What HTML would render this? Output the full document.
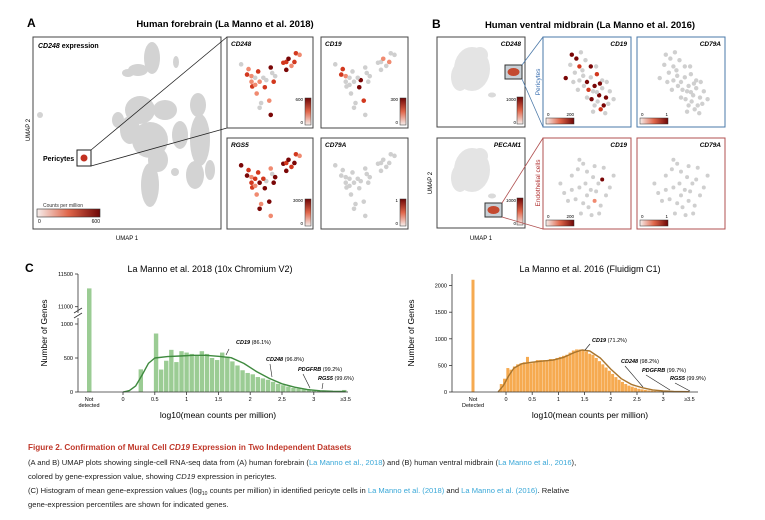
<!DOCTYPE html>
<html><head><meta charset="utf-8"><style>
html,body{margin:0;padding:0;background:#fff}
svg{display:block;font-family:"Liberation Sans",sans-serif}
</style></head><body>
<svg id="fig" width="765" height="520" viewBox="0 0 765 520" xmlns="http://www.w3.org/2000/svg">
<defs>
<linearGradient id="rh" x1="0" x2="1" y1="0" y2="0"><stop offset="0" stop-color="#f6eeec"/><stop offset="0.5" stop-color="#e0664a"/><stop offset="1" stop-color="#6e0606"/></linearGradient>
<linearGradient id="rv" x1="0" x2="0" y1="1" y2="0"><stop offset="0" stop-color="#f6eeec"/><stop offset="0.5" stop-color="#e0664a"/><stop offset="1" stop-color="#6e0606"/></linearGradient>
</defs>
<g id="static"></g>
</svg>
<script>
// ---------- Histogram data ----------
const leftBinStart = 0.28, leftBinWidth = 0.08;
const leftCounts = [333,0,0,860,330,460,620,440,600,580,560,540,600,560,500,470,580,520,450,390,320,280,260,220,200,180,150,120,100,80,60,50,40,30,20,15,10,10,10,10,30];
const leftNotDetected = 11280;
const leftCurveX = [0,0.1,0.2,0.3,0.4,0.5,0.7,0.9,1.1,1.3,1.5,1.7,1.9,2.1,2.3,2.5,2.7,2.9,3.1,3.3,3.5];
const leftCurveY = [0,20,90,250,420,500,520,530,540,540,525,505,420,300,200,120,70,35,18,10,8];
const leftXTicks = [0,0.5,1,1.5,2,2.5,3];
const leftXTickLabels = ["0","0.5","1","1.5","2","2.5","3"];
const leftYTicksLow = [0,500,1000];
const leftYTicksHigh = [11000,11500];

const rightBinStart = -0.09, rightBinWidth = 0.0625;
const rightCounts = [150,250,450,420,480,520,540,560,660,540,560,600,600,600,600,620,620,640,660,680,700,740,780,800,800,780,760,720,700,640,580,520,460,400,340,280,230,190,150,120,100,80,60,50,40,30,25,20,15,10,8,8,8,8,8,8,8,8];
const rightNotDetected = 2110;
const rightCurveX = [-0.15,-0.05,0.05,0.15,0.3,0.5,0.7,0.9,1.1,1.3,1.45,1.6,1.8,2.0,2.2,2.4,2.6,2.8,3.0,3.2,3.5];
const rightCurveY = [0,120,300,450,530,560,580,600,650,740,790,770,640,430,250,140,80,40,20,10,5];
const rightXTicks = [0,0.5,1,1.5,2,2.5,3];
const rightYTicks = [0,500,1000,1500,2000];

// ---------- UMAP mini-panel cells (embedding coords 0-100) ----------
const cellsA = [[11,27],[21,33],[19,40],[25,42],[30,44],[34,36],[36,49],[26,55],[32,64],[43,56],[45,47],[51,31],[53,38],[57,42],[55,49],[68,25],[72,24],[75,20],[79,29],[83,24],[85,13],[72,34],[90,15],[49,73],[51,91],[38,76],[36,82],[25,49],[41,44],[30,53]];
const cellsA_CD248 = [0,1,2,1,0,2,1,2,1,2,0,3,0,0,2,2,2,3,1,2,2,3,1,1,3,0,0,1,0,1];
const cellsA_CD19 = [0,2,2,1,0,0,0,0,0,3,3,0,0,0,0,0,0,1,0,1,0,0,0,2,0,0,0,0,0,0];
const cellsA_RGS5 = [3,2,3,1,2,2,3,2,1,3,0,1,0,3,3,3,2,3,2,3,2,3,1,3,1,1,3,2,2,1];
const cellsB = [[30,15],[36,20],[28,28],[40,30],[34,38],[22,45],[45,42],[50,50],[55,44],[60,55],[63,40],[58,62],[66,67],[70,58],[75,70],[64,75],[72,80],[78,78],[68,85],[60,80],[52,60],[46,55],[40,48],[32,50],[55,30],[48,22],[42,12],[62,30],[70,48],[80,62],[85,72],[50,70],[38,60],[58,88],[74,90],[44,35],[67,52],[76,50],[56,72],[63,63]];
const cellsB_CD19 = [3,3,0,2,0,3,0,3,0,3,2,0,3,0,3,0,3,0,2,0,2,0,0,0,3,0,0,0,0,0,0,0,0,0,0,0,3,0,3,0];
const cellsE = [[40,20],[45,25],[38,32],[50,35],[30,40],[58,42],[65,50],[70,45],[62,60],[55,58],[48,50],[40,55],[30,58],[20,62],[25,72],[35,70],[45,75],[52,80],[60,72],[68,78],[75,65],[80,55],[72,30],[60,28],[85,40],[50,65],[42,88],[56,90],[66,88],[15,50]];
const cellsE_CD19 = [0,0,0,0,0,0,0,3,0,0,0,0,0,0,0,0,0,0,1,0,0,0,0,0,0,0,0,0,0,0];
const heat = ["#cfcfcf","#f08a70","#d2381e","#7a0606"];

const NS="http://www.w3.org/2000/svg";
const svg=document.getElementById('fig');
function mk(tag,attrs,parent,text){const e=document.createElementNS(NS,tag);for(const k in attrs)e.setAttribute(k,attrs[k]);if(text!==undefined)e.textContent=text;(parent||svg).appendChild(e);return e;}

let t;
t=mk('text',{x:27,y:27,'font-size':12,'font-weight':'bold'},svg,'A');


t=mk('text',{x:225,y:27,'font-size':9.5,'font-weight':'bold','text-anchor':'middle'},svg,'Human forebrain (La Manno et al. 2018)');


t=mk('text',{x:432,y:28,'font-size':12,'font-weight':'bold'},svg,'B');


t=mk('text',{x:590,y:28,'font-size':9.5,'font-weight':'bold','text-anchor':'middle'},svg,'Human ventral midbrain (La Manno et al. 2016)');


t=mk('text',{x:25,y:272,'font-size':12,'font-weight':'bold'},svg,'C');



// Panel A big UMAP
const gA=mk('g',{});


mk('rect',{x:33,y:37,width:188,height:192,fill:'#fff',stroke:'#444','stroke-width':1},gA);
const blobsA=[[152,58,8,16],[138,70,10,6],[128,73,6,4],[176,62,3,6],[40,115,3,3],[140,110,15,14],[165,110,12,10],[130,130,10,14],[150,140,18,18],[158,160,10,12],[150,185,9,22],[198,105,8,12],[200,140,10,26],[195,175,9,14],[180,135,8,14],[118,120,6,8],[210,170,5,10],[175,172,4,4]];
blobsA.forEach(b=>mk('ellipse',{cx:b[0],cy:b[1],rx:b[2],ry:b[3],fill:'#d3d3d3'},gA));
mk('rect',{x:77,y:150,width:14,height:16,fill:'none',stroke:'#222','stroke-width':1},gA);
mk('circle',{cx:84,cy:158,r:3.5,fill:'#c23020'},gA);
mk('text',{x:38,y:48,'font-size':7,'font-weight':'bold'},gA).innerHTML='<tspan font-style="italic">CD248</tspan> expression';
mk('text',{x:43,y:161,'font-size':7,'font-weight':'bold'},gA,'Pericytes');
mk('text',{x:43,y:207,'font-size':5,fill:'#333'},gA,'Counts per million');
mk('rect',{x:37,y:209,width:63,height:8,fill:'url(#rh)',stroke:'#333','stroke-width':0.6},gA);
mk('text',{x:38,y:223,'font-size':5},gA,'0');
mk('text',{x:100,y:223,'font-size':5,'text-anchor':'end'},gA,'600');
mk('line',{x1:91,y1:150,x2:227,y2:37,stroke:'#222','stroke-width':0.8});
mk('line',{x1:91,y1:166,x2:227,y2:128,stroke:'#222','stroke-width':0.8});
t=mk('text',{x:0,y:0,'font-size':6,transform:'translate(30,130) rotate(-90)','text-anchor':'middle'},svg,'UMAP 2');


t=mk('text',{x:127,y:240,'font-size':6,'text-anchor':'middle'},svg,'UMAP 1');



function mini(name,x,y,w,h,label,cells,vals,stroke,lblRight,cbar,r){
  const g=mk('g',{});
  
  
  mk('rect',{x:x,y:y,width:w,height:h,fill:'#fff',stroke:stroke,'stroke-width':1},g);
  cells.forEach((c,i)=>mk('circle',{cx:x+6+c[0]/100*(w-12),cy:y+6+c[1]/100*(h-12),r:r,fill:heat[vals[i]]},g));
  mk('text',{x:lblRight?x+w-4:x+4,y:y+9,'font-size':6.5,'font-weight':'bold','font-style':'italic','text-anchor':lblRight?'end':'start'},g,label);
  if(cbar){ if(cbar.v){mk('rect',{x:x+w-8,y:y+h-30,width:6,height:27,fill:'url(#rv)',stroke:'#333','stroke-width':0.5},g);
      mk('text',{x:x+w-10,y:y+h-27,'font-size':4.5,'text-anchor':'end'},g,cbar.max);mk('text',{x:x+w-10,y:y+h-4,'font-size':4.5,'text-anchor':'end'},g,'0');}
    else {mk('rect',{x:x+3,y:y+h-9,width:28,height:6,fill:'url(#rh)',stroke:'#333','stroke-width':0.5},g);
      mk('text',{x:x+4,y:y+h-11,'font-size':4.5},g,'0');mk('text',{x:x+31,y:y+h-11,'font-size':4.5,'text-anchor':'end'},g,cbar.max);}}
  return g;
}
const noneA=cellsA.map(()=>0);
mini('mini-a-cd248',227,37,86,91,'CD248',cellsA,cellsA_CD248,'#444',false,{v:1,max:'600'},2.3);
mini('mini-a-cd19',321,37,87,91,'CD19',cellsA,cellsA_CD19,'#444',false,{v:1,max:'300'},2.3);
mini('mini-a-rgs5',227,138,86,91,'RGS5',cellsA,cellsA_RGS5,'#444',false,{v:1,max:'3000'},2.3);
mini('mini-a-cd79a',321,138,87,91,'CD79A',cellsA,noneA,'#444',false,{v:1,max:'1'},2.3);

// Panel B big UMAPs
function bigB(name,y,label,bx,by,bc){
  const g=mk('g',{});
  
  
  mk('rect',{x:437,y:y,width:88,height:90,fill:'#fff',stroke:'#444','stroke-width':1},g);
  [[472,y+32,18,22],[460,y+40,9,14],[480,y+18,8,8]].forEach(b=>mk('ellipse',{cx:b[0],cy:b[1],rx:b[2],ry:b[3],fill:'#e4e4e4'},g));
  mk('ellipse',{cx:492,cy:y+58,rx:4,ry:2.5,fill:'#dadada'},g);
  mk('text',{x:521,y:y+9,'font-size':6.5,'font-weight':'bold','font-style':'italic','text-anchor':'end'},g,label);
  mk('rect',{x:bx,y:by,width:17,height:14,fill:'#c8d0d6',stroke:'#333','stroke-width':1},g);
  mk('ellipse',{cx:bx+8.5,cy:by+7,rx:6,ry:4,fill:bc},g);
  mk('rect',{x:517,y:y+60,width:6,height:27,fill:'url(#rv)',stroke:'#333','stroke-width':0.5},g);
  mk('text',{x:516,y:y+64,'font-size':4.5,'text-anchor':'end'},g,'1000');
  mk('text',{x:516,y:y+87,'font-size':4.5,'text-anchor':'end'},g,'0');
}
bigB('umap-midbrain-cd248',37,'CD248',505,65,'#c44a30');
bigB('umap-midbrain-pecam1',138,'PECAM1',485,203,'#c44a30');
mk('line',{x1:522,y1:65,x2:543,y2:37,stroke:'#4a78a8','stroke-width':0.8});
mk('line',{x1:522,y1:79,x2:543,y2:127,stroke:'#4a78a8','stroke-width':0.8});
mk('line',{x1:502,y1:203,x2:543,y2:138,stroke:'#b05050','stroke-width':0.8});
mk('line',{x1:502,y1:217,x2:543,y2:229,stroke:'#b05050','stroke-width':0.8});
mini('mini-b-pericytes-cd19',543,37,88,90,'CD19',cellsB,cellsB_CD19,'#4a78a8',true,{max:'200'},2.2);
mini('mini-b-pericytes-cd79a',637,37,88,90,'CD79A',cellsB,cellsB.map(()=>0),'#4a78a8',true,{max:'1'},2.2);
mini('mini-b-endo-cd19',543,138,88,91,'CD19',cellsE,cellsE_CD19,'#b05050',true,{max:'200'},2.0);
mini('mini-b-endo-cd79a',637,138,88,91,'CD79A',cellsE,cellsE.map(()=>0),'#b05050',true,{max:'1'},2.0);
t=mk('text',{x:0,y:0,'font-size':6.5,fill:'#3a6fb0',transform:'translate(540,82) rotate(-90)','text-anchor':'middle'},svg,'Pericytes');


t=mk('text',{x:0,y:0,'font-size':6.5,fill:'#b03030',transform:'translate(540,183) rotate(-90)','text-anchor':'middle'},svg,'Endothelial cells');


t=mk('text',{x:0,y:0,'font-size':6,transform:'translate(432,183) rotate(-90)','text-anchor':'middle'},svg,'UMAP 2');


t=mk('text',{x:481,y:240,'font-size':6,'text-anchor':'middle'},svg,'UMAP 1');



// ---------- Left histogram ----------
(function(){
  const g=mk('g',{});
  
  
  const x0=123, pxu=63.6, y0=392;
  const xs=v=>x0+v*pxu;
  const yLow=v=>y0-v*0.068;
  const yHigh=v=>306.7-(v-11000)*0.0654;
  mk('text',{x:210,y:272,'font-size':9,'text-anchor':'middle'},g,'La Manno et al. 2018 (10x Chromium V2)');
  leftCounts.forEach((c,i)=>{ if(!c) return;
    const b=mk('rect',{x:xs(leftBinStart+i*leftBinWidth)-2.2,y:yLow(c),width:4.4,height:y0-yLow(c),fill:'#9bcc94'},g);
    
    
  });
  const nd=mk('rect',{x:87,y:yHigh(leftNotDetected),width:4.5,height:y0-yHigh(leftNotDetected),fill:'#9bcc94'},g);
  
  
  let d=leftCurveX.map((v,i)=>(i?'L':'M')+xs(v).toFixed(1)+','+yLow(leftCurveY[i]).toFixed(1)).join(' ');
  const c=mk('path',{d:d,fill:'none',stroke:'#3f8a3f','stroke-width':1.4,'stroke-linejoin':'round'},g);
  
  
  mk('line',{x1:78,y1:y0,x2:348,y2:y0,stroke:'#333','stroke-width':0.8},g);
  mk('line',{x1:78,y1:y0,x2:78,y2:318,stroke:'#333','stroke-width':0.8},g);
  mk('line',{x1:78,y1:313,x2:78,y2:274,stroke:'#333','stroke-width':0.8},g);
  mk('line',{x1:74,y1:318,x2:82,y2:313,stroke:'#333','stroke-width':0.8},g);
  mk('line',{x1:74,y1:313,x2:82,y2:308,stroke:'#333','stroke-width':0.8},g);
  leftYTicksLow.forEach(v=>{mk('line',{x1:75,x2:78,y1:yLow(v),y2:yLow(v),stroke:'#333','stroke-width':0.8},g);mk('text',{x:73,y:yLow(v)+2,'font-size':5.5,'text-anchor':'end'},g,v);});
  leftYTicksHigh.forEach(v=>{mk('line',{x1:75,x2:78,y1:yHigh(v),y2:yHigh(v),stroke:'#333','stroke-width':0.8},g);mk('text',{x:73,y:yHigh(v)+2,'font-size':5.5,'text-anchor':'end'},g,v);});
  leftXTicks.forEach((v,i)=>{mk('line',{x1:xs(v),x2:xs(v),y1:y0,y2:y0+3,stroke:'#333','stroke-width':0.8},g);mk('text',{x:xs(v),y:y0+9,'font-size':5.5,'text-anchor':'middle'},g,leftXTickLabels[i]);});
  mk('text',{x:xs(3.5),y:y0+9,'font-size':5.5,'text-anchor':'middle'},g,'≥3.5');
  mk('text',{x:89,y:y0+9,'font-size':5.5,'text-anchor':'middle'},g,'Not');
  mk('text',{x:89,y:y0+15,'font-size':5.5,'text-anchor':'middle'},g,'detected');
  mk('text',{x:218,y:418,'font-size':8.5,'text-anchor':'middle'},g,'log10(mean counts per million)');
  mk('text',{x:0,y:0,'font-size':8.5,'text-anchor':'middle',transform:'translate(47,333) rotate(-90)'},g,'Number of Genes');
  const ann=[[236,344,'CD19','(86.1%)',229,349,226,355],[266,361,'CD248','(96.8%)',270,364,272,377],[298,371,'PDGFRB','(99.2%)',303,374,310,388],[318,380,'RGS5','(99.6%)',323,383,322,389]];
  ann.forEach(a=>{mk('text',{x:a[0],y:a[1],'font-size':5.5},g).innerHTML='<tspan font-weight="bold" font-style="italic">'+a[2]+'</tspan> '+a[3];
    mk('line',{x1:a[4],y1:a[5],x2:a[6],y2:a[7],stroke:'#222','stroke-width':0.6},g);});
})();

// ---------- Right histogram ----------
(function(){
  const g=mk('g',{});
  
  
  const x0=506, pxu=52.4, y0=392;
  const xs=v=>x0+v*pxu;
  const ys=v=>y0-v*0.0532;
  mk('text',{x:590,y:272,'font-size':9,'text-anchor':'middle'},g,'La Manno et al. 2016 (Fluidigm C1)');
  rightCounts.forEach((c,i)=>{
    const b=mk('rect',{x:xs(rightBinStart+i*rightBinWidth)-1.5,y:ys(c),width:3.0,height:y0-ys(c),fill:'#f6aa50'},g);
    
    
  });
  const nd=mk('rect',{x:471.5,y:ys(rightNotDetected),width:3,height:y0-ys(rightNotDetected),fill:'#f6aa50'},g);
  
  
  let d=rightCurveX.map((v,i)=>(i?'L':'M')+xs(v).toFixed(1)+','+ys(rightCurveY[i]).toFixed(1)).join(' ');
  const c=mk('path',{d:d,fill:'none',stroke:'#a8752e','stroke-width':1.4,'stroke-linejoin':'round'},g);
  
  
  mk('line',{x1:452,y1:y0,x2:698,y2:y0,stroke:'#333','stroke-width':0.8},g);
  mk('line',{x1:452,y1:y0,x2:452,y2:274,stroke:'#333','stroke-width':0.8},g);
  rightYTicks.forEach(v=>{mk('line',{x1:449,x2:452,y1:ys(v),y2:ys(v),stroke:'#333','stroke-width':0.8},g);mk('text',{x:447,y:ys(v)+2,'font-size':5.5,'text-anchor':'end'},g,v);});
  rightXTicks.forEach(v=>{mk('line',{x1:xs(v),x2:xs(v),y1:y0,y2:y0+3,stroke:'#333','stroke-width':0.8},g);mk('text',{x:xs(v),y:y0+9,'font-size':5.5,'text-anchor':'middle'},g,String(v));});
  mk('text',{x:xs(3.5),y:y0+9,'font-size':5.5,'text-anchor':'middle'},g,'≥3.5');
  mk('text',{x:473,y:y0+9,'font-size':5.5,'text-anchor':'middle'},g,'Not');
  mk('text',{x:473,y:y0+15,'font-size':5.5,'text-anchor':'middle'},g,'Detected');
  mk('text',{x:590,y:418,'font-size':8.5,'text-anchor':'middle'},g,'log10(mean counts per million)');
  mk('text',{x:0,y:0,'font-size':8.5,'text-anchor':'middle',transform:'translate(414,333) rotate(-90)'},g,'Number of Genes');
  const ann=[[592,342,'CD19','(71.2%)',590,344,585,350],[621,363,'CD248','(98.2%)',625,366,643,387],[642,372,'PDGFRB','(99.7%)',646,375,670,390],[670,380,'RGS5','(99.9%)',675,383,690,391]];
  ann.forEach(a=>{mk('text',{x:a[0],y:a[1],'font-size':5.5},g).innerHTML='<tspan font-weight="bold" font-style="italic">'+a[2]+'</tspan> '+a[3];
    mk('line',{x1:a[4],y1:a[5],x2:a[6],y2:a[7],stroke:'#222','stroke-width':0.6},g);});
})();

// ---------- Caption ----------
const cap=mk('g',{'font-size':7.6});


mk('text',{x:28,y:450,fill:'#c0392b','font-weight':'bold','font-size':8.2},cap).innerHTML='Figure 2.  Confirmation of Mural Cell <tspan font-style="italic">CD19</tspan> Expression in Two Independent Datasets';
mk('text',{x:28,y:465,fill:'#222'},cap).innerHTML='(A and B) UMAP plots showing single-cell RNA-seq data from (A) human forebrain (<tspan fill="#3aa8d8">La Manno et al., 2018</tspan>) and (B) human ventral midbrain (<tspan fill="#3aa8d8">La Manno et al., 2016</tspan>),';
mk('text',{x:28,y:479,fill:'#222'},cap).innerHTML='colored by gene-expression value, showing <tspan font-style="italic">CD19</tspan> expression in pericytes.';
mk('text',{x:28,y:493,fill:'#222'},cap).innerHTML='(C) Histogram of mean gene-expression values (log<tspan font-size="5" dy="2">10</tspan><tspan dy="-2"> counts per million) in identified pericyte cells in </tspan><tspan fill="#3aa8d8">La Manno et al. (2018)</tspan> and <tspan fill="#3aa8d8">La Manno et al. (2016)</tspan>. Relative';
mk('text',{x:28,y:507,fill:'#222'},cap,'gene-expression percentiles are shown for indicated genes.');
</script>
</body></html>
